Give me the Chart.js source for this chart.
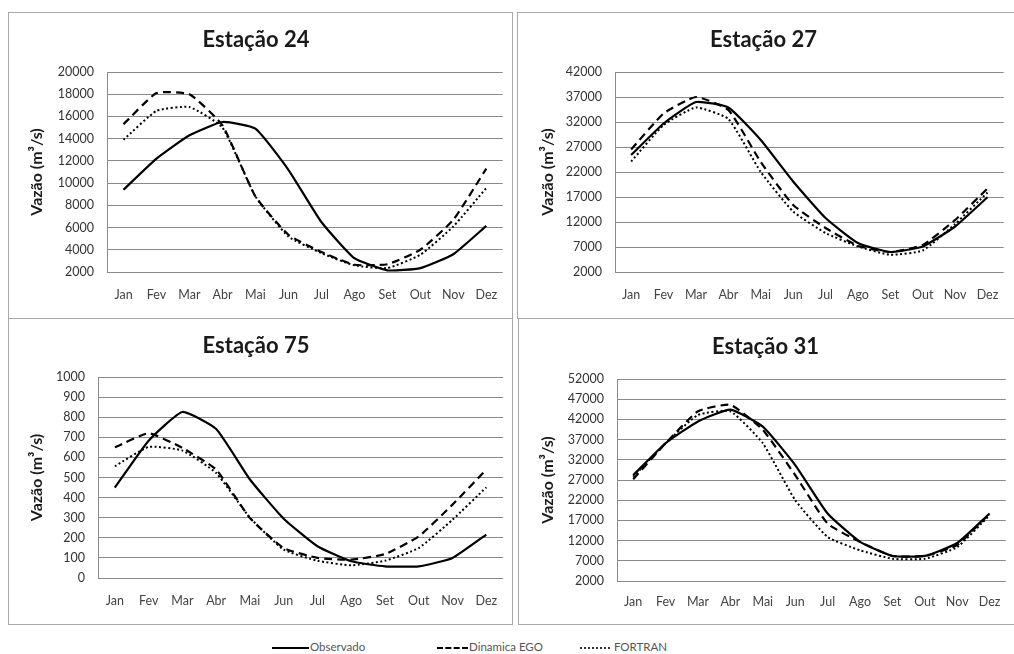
<!DOCTYPE html>
<html>
<head>
<meta charset="utf-8">
<script src="https://cdn.jsdelivr.net/npm/chart.js@4/dist/chart.umd.min.js"></script>
<style>
  body { margin: 0; background: #fff; width: 1014px; height: 654px; overflow: hidden; position: relative; font-family: Lato, "Open Sans", sans-serif; }
  .panel { position: absolute; border: 1px solid #a8a8a8; box-sizing: border-box; }
  .wrap { position: absolute; }
  .legend { position: absolute; top: 640px; font-size: 11.5px; color: #555; white-space: nowrap; line-height: 14px; }
  .legend .sample { display: inline-block; vertical-align: middle; margin-right: 1px; }
</style>
</head>
<body>
<div class="panel" style="left:8px;top:12px;width:505px;height:307px"></div>
<div class="panel" style="left:517px;top:12px;width:498px;height:307px"></div>
<div class="panel" style="left:8px;top:318px;width:505px;height:307px"></div>
<div class="panel" style="left:518px;top:318px;width:497px;height:307px"></div>

<div class="wrap" id="w24"><canvas id="c24"></canvas></div>
<div class="wrap" id="w27"><canvas id="c27"></canvas></div>
<div class="wrap" id="w75"><canvas id="c75"></canvas></div>
<div class="wrap" id="w31"><canvas id="c31"></canvas></div>

<div class="legend" style="left:272px"><span class="sample" style="width:37px;border-top:2px solid #000"></span>Observado</div>
<div class="legend" style="left:437px"><span class="sample" style="width:31px;border-top:2px dashed #000"></span>Dinamica EGO</div>
<div class="legend" style="left:580px"><span class="sample" style="width:30px;border-top:2px dotted #333"></span> FORTRAN</div>

<script>
const months = ['Jan', 'Fev', 'Mar', 'Abr', 'Mai', 'Jun', 'Jul', 'Ago', 'Set', 'Out', 'Nov', 'Dez'];

const obs24 = [9400, 12200, 14300, 15500, 14900, 11200, 6500, 3250, 2150, 2350, 3600, 6150];
const ego24 = [15300, 18100, 18000, 15200, 8800, 5350, 3800, 2650, 2700, 4000, 6700, 11300];
const fort24 = [13900, 16500, 16850, 15000, 8800, 5200, 3700, 2600, 2350, 3550, 6100, 9550];

const obs27 = [25400, 31700, 36000, 34900, 28400, 20100, 12800, 7800, 6000, 7100, 11100, 16950];
const ego27 = [26500, 33700, 37000, 34400, 24000, 15400, 10800, 7250, 6000, 7400, 12400, 18700];
const fort27 = [24100, 31400, 34900, 32600, 22000, 14100, 9800, 7100, 5450, 6300, 11600, 17900];

const obs75 = [450, 683, 826, 741, 490, 295, 158, 83, 58, 58, 100, 216];
const ego75 = [650, 720, 647, 539, 298, 149, 100, 91, 119, 207, 365, 539];
const fort75 = [556, 652, 634, 522, 300, 141, 86, 63, 86, 149, 290, 451];

const obs31 = [28200, 36100, 41500, 44400, 40200, 30700, 18700, 11700, 8200, 8200, 11400, 18700];
const ego31 = [27200, 36100, 44000, 45600, 39400, 28200, 16200, 11700, 8200, 8200, 10900, 18700];
const fort31 = [27800, 36100, 43100, 44000, 36100, 22000, 12900, 9600, 7500, 7500, 10400, 18300];

const FONT = 'Lato, "Open Sans", sans-serif';
const TITLE_SIZE = 22;
const AXIS_TITLE_SIZE = 16;

function makeChart(id, title, obs, ego, fort, yMin, yMax, yStep, g) {
    const wrap = document.getElementById('w' + id);
    wrap.style.left = g.x + 'px';
    wrap.style.top = g.y + 'px';
    wrap.style.width = g.w + 'px';
    wrap.style.height = g.h + 'px';

    const titleLine = TITLE_SIZE * 1.2;
    const plotTop = g.top - g.y;
    const titleTop = (g.titleY - g.y) - titleLine / 2;
    const yWidth = g.left - g.x;
    const xHeight = g.h - (g.bottom - g.y);

    const line = (label, data, dash, width) => ({
        label,
        data,
        borderColor: '#000',
        borderWidth: width,
        borderDash: dash,
        pointRadius: 0,
        tension: 0.15,
        fill: false,
    });

    return new Chart(document.getElementById('c' + id), {
        type: 'line',
        data: {
            labels: months,
            datasets: [
                line('Observado', obs, [], 2.2),
                line('Dinamica EGO', ego, [8, 5], 2.2),
                line('FORTRAN', fort, [2, 2.5], 2),
            ],
        },
        options: {
            responsive: true,
            maintainAspectRatio: false,
            animation: false,
            layout: {
                padding: { left: 0, top: 0, bottom: 0, right: g.w - (g.right - g.x) },
            },
            plugins: {
                legend: { display: false },
                tooltip: { enabled: false },
                title: {
                    display: true,
                    text: title,
                    color: '#1a1a1a',
                    font: { family: FONT, size: TITLE_SIZE, weight: 'bold', lineHeight: 1.2 },
                    padding: { top: titleTop, bottom: plotTop - titleTop - titleLine },
                },
            },
            scales: {
                x: {
                    offset: true,
                    grid: { display: false, drawTicks: false },
                    border: { display: false },
                    ticks: {
                        color: '#444',
                        font: { family: FONT, size: 12.5 },
                        padding: g.labelY - g.bottom - 7.5,
                        autoSkip: false,
                        maxRotation: 0,
                    },
                    afterFit: (scale) => { scale.height = xHeight; },
                },
                y: {
                    min: yMin,
                    max: yMax,
                    grid: { color: '#8a8a8a', lineWidth: 1, drawTicks: false },
                    border: { display: true, color: '#8a8a8a' },
                    ticks: {
                        stepSize: yStep,
                        color: '#333',
                        font: { family: FONT, size: 12.5 },
                        padding: 13,
                        callback: (value) => String(value),
                    },
                    title: {
                        display: true,
                        text: 'Vazão (m³/s)',
                        color: '#1a1a1a',
                        font: { family: FONT, size: AXIS_TITLE_SIZE, weight: 'bold', lineHeight: 1.2 },
                        padding: { top: (g.yTitleX - g.x) - AXIS_TITLE_SIZE * 0.6, bottom: 0 },
                    },
                    afterFit: (scale) => { scale.width = yWidth; },
                },
            },
        },
    });
}

makeChart('24', 'Estação 24', obs24, ego24, fort24, 2000, 20000, 2000,
    { x: 8, y: 12, w: 505, h: 306, left: 107, top: 72, right: 504, bottom: 272, titleY: 40, yTitleX: 37, labelY: 295 });
makeChart('27', 'Estação 27', obs27, ego27, fort27, 2000, 42000, 5000,
    { x: 517, y: 12, w: 497, h: 306, left: 615, top: 72, right: 1010, bottom: 272, titleY: 40, yTitleX: 548, labelY: 295 });
makeChart('75', 'Estação 75', obs75, ego75, fort75, 0, 1000, 100,
    { x: 8, y: 318, w: 505, h: 306, left: 98, top: 377, right: 504, bottom: 578, titleY: 346, yTitleX: 37, labelY: 601 });
makeChart('31', 'Estação 31', obs31, ego31, fort31, 2000, 52000, 5000,
    { x: 518, y: 318, w: 496, h: 306, left: 617, top: 379, right: 1013, bottom: 581, titleY: 347, yTitleX: 548, labelY: 602 });
</script>
</body>
</html>
